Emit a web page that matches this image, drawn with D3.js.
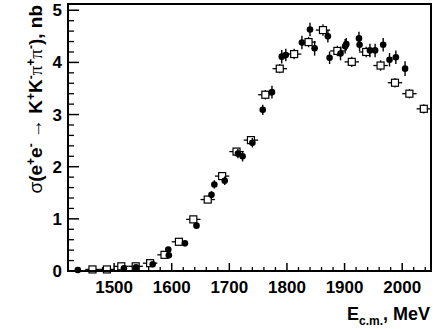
<!DOCTYPE html>
<html>
<head>
<meta charset="utf-8">
<script src="https://cdn.jsdelivr.net/npm/d3@7"></script>
<style>
  body { margin: 0; background: #fff; }
  svg { display: block; font-family: "Liberation Sans", Arial, sans-serif; }
</style>
</head>
<body>
<div id="chart"></div>
<script>
// open squares: 25 MeV bins (centre, value, vertical error)
var sqE = [1462.5, 1487.5, 1512.5, 1537.5, 1562.5, 1587.5, 1612.5, 1637.5, 1662.5, 1687.5,
  1712.5, 1737.5, 1762.5, 1787.5, 1812.5, 1837.5, 1862.5, 1887.5, 1912.5, 1937.5,
  1962.5, 1987.5, 2012.5, 2037.5];
var sqV = [0.03, 0.03, 0.09, 0.09, 0.15, 0.31, 0.56, 0.99, 1.37, 1.82,
  2.29, 2.51, 3.38, 3.88, 4.16, 4.39, 4.62, 4.22, 4.01, 4.20,
  3.94, 3.61, 3.40, 3.11];
var sqErr = [0.02, 0.02, 0.02, 0.02, 0.03, 0.03, 0.04, 0.05, 0.05, 0.06,
  0.07, 0.07, 0.09, 0.09, 0.10, 0.10, 0.11, 0.10, 0.10, 0.10,
  0.10, 0.09, 0.09, 0.09];
var sqHalfWidth = 12.5;

// filled circles (energy, value, vertical error)
var dotE = [1437, 1517, 1538, 1567, 1594, 1595, 1623, 1643, 1669, 1674,
  1692, 1715, 1723, 1740, 1758, 1774, 1791, 1798, 1826, 1840,
  1848, 1871, 1874, 1893, 1901, 1903, 1925, 1926, 1944, 1953,
  1967, 1978, 1989, 2005];
var dotV = [0.02, 0.05, 0.07, 0.13, 0.41, 0.30, 0.53, 0.87, 1.46, 1.66,
  1.73, 2.25, 2.20, 2.46, 3.09, 3.43, 4.11, 4.14, 4.38, 4.63,
  4.27, 4.50, 4.09, 4.17, 4.31, 4.35, 4.46, 4.34, 4.23, 4.23,
  4.34, 4.05, 4.10, 3.88];
var dotErr = [0.02, 0.02, 0.03, 0.03, 0.05, 0.04, 0.04, 0.06, 0.07, 0.08,
  0.08, 0.09, 0.10, 0.09, 0.10, 0.12, 0.13, 0.12, 0.13, 0.13,
  0.14, 0.12, 0.12, 0.13, 0.14, 0.12, 0.13, 0.12, 0.13, 0.13,
  0.13, 0.13, 0.13, 0.14];

var xTicks = [1500, 1600, 1700, 1800, 1900, 2000];
var yTicks = [0, 1, 2, 3, 4, 5];

var margin = { top: 4, right: 6, bottom: 58, left: 68 },
  W = 437, H = 329,
  width = W - margin.left - margin.right,
  height = H - margin.top - margin.bottom;

var svg = d3.select("#chart").append("svg")
  .attr("width", W).attr("height", H);

var g = svg.append("g")
  .attr("transform", "translate(" + margin.left + "," + margin.top + ")");

var x = d3.scaleLinear().domain([1420, 2050]).range([0, width]);
var y = d3.scaleLinear().domain([0, 5.12]).range([height, 0]);

// minor ticks (ROOT style, inside the frame)
var xMinor = d3.range(1420, 2051, 20).filter(function (d) { return d % 100 != 0; });
var yMinor = d3.range(0, 5.01, 0.2).filter(function (d) { return Math.abs(d - Math.round(d)) > 0.01; });

g.selectAll(".xminor").data(xMinor).enter().append("line")
  .attr("x1", function (d) { return x(d); }).attr("x2", function (d) { return x(d); })
  .attr("y1", height).attr("y2", height - 4)
  .attr("stroke", "#000").attr("stroke-width", 1.3);
g.selectAll(".xmajor").data(xTicks).enter().append("line")
  .attr("x1", function (d) { return x(d); }).attr("x2", function (d) { return x(d); })
  .attr("y1", height).attr("y2", height - 8)
  .attr("stroke", "#000").attr("stroke-width", 1.5);
g.selectAll(".yminor").data(yMinor).enter().append("line")
  .attr("y1", function (d) { return y(d); }).attr("y2", function (d) { return y(d); })
  .attr("x1", 0).attr("x2", 6)
  .attr("stroke", "#000").attr("stroke-width", 1.3);
g.selectAll(".ymajor").data(yTicks).enter().append("line")
  .attr("y1", function (d) { return y(d); }).attr("y2", function (d) { return y(d); })
  .attr("x1", 0).attr("x2", 11)
  .attr("stroke", "#000").attr("stroke-width", 1.5);

// tick labels
g.selectAll(".xlab").data(xTicks).enter().append("text")
  .attr("x", function (d) { return x(d); })
  .attr("y", height + 22)
  .attr("text-anchor", "middle")
  .style("font-size", "17px").style("font-weight", "bold")
  .text(function (d) { return d; });
g.selectAll(".ylab").data(yTicks).enter().append("text")
  .attr("x", -6)
  .attr("y", function (d) { return y(d) + 6; })
  .attr("text-anchor", "end")
  .style("font-size", "17px").style("font-weight", "bold")
  .text(function (d) { return d; });

// open squares with error bars
var squares = sqE.map(function (e, i) { return { e: e, v: sqV[i], err: sqErr[i] }; });
var sq = g.append("g").selectAll("g").data(squares).enter().append("g");
sq.append("line")
  .attr("x1", function (d) { return x(d.e - sqHalfWidth); })
  .attr("x2", function (d) { return x(d.e + sqHalfWidth); })
  .attr("y1", function (d) { return y(d.v); }).attr("y2", function (d) { return y(d.v); })
  .attr("stroke", "#000").attr("stroke-width", 1.3);
sq.append("line")
  .attr("x1", function (d) { return x(d.e); }).attr("x2", function (d) { return x(d.e); })
  .attr("y1", function (d) { return y(d.v - d.err); })
  .attr("y2", function (d) { return y(d.v + d.err); })
  .attr("stroke", "#000").attr("stroke-width", 1.3);
sq.append("rect")
  .attr("x", function (d) { return x(d.e) - 3.5; })
  .attr("y", function (d) { return y(d.v) - 3.5; })
  .attr("width", 7).attr("height", 7)
  .attr("fill", "#fff").attr("stroke", "#000").attr("stroke-width", 1.2);

// filled circles with error bars
var dots = dotE.map(function (e, i) { return { e: e, v: dotV[i], err: dotErr[i] }; });
var dt = g.append("g").selectAll("g").data(dots).enter().append("g");
dt.append("line")
  .attr("x1", function (d) { return x(d.e); }).attr("x2", function (d) { return x(d.e); })
  .attr("y1", function (d) { return y(d.v - d.err); })
  .attr("y2", function (d) { return y(d.v + d.err); })
  .attr("stroke", "#000").attr("stroke-width", 1.4);
dt.append("circle")
  .attr("cx", function (d) { return x(d.e); })
  .attr("cy", function (d) { return y(d.v); })
  .attr("r", 3.3)
  .attr("fill", "#000");

// frame
g.append("rect")
  .attr("x", 0).attr("y", 0).attr("width", width).attr("height", height)
  .attr("fill", "none").attr("stroke", "#000").attr("stroke-width", 2);

// x axis title
var xt = svg.append("text")
  .attr("x", W - 7).attr("y", 320)
  .attr("text-anchor", "end")
  .style("font-size", "18px").style("font-weight", "bold");
xt.append("tspan").text("E");
xt.append("tspan").attr("dy", 5).style("font-size", "12px").text("c.m.");
xt.append("tspan").attr("dy", -5).text(", MeV");

// y axis title (rotated)
var yt = svg.append("text")
  .attr("transform", "translate(42,5) rotate(-90)")
  .attr("text-anchor", "end")
  .style("font-size", "19px").style("font-weight", "bold");
var sym = "Liberation Serif";
yt.append("tspan").style("font-weight", "normal").text("\u03c3");
yt.append("tspan").text("(e");
yt.append("tspan").attr("dy", -7).style("font-size", "12px").text("+");
yt.append("tspan").attr("dy", 7).text("e");
yt.append("tspan").attr("dy", -7).style("font-size", "12px").text("-");
yt.append("tspan").attr("dy", 7).style("font-weight", "normal").text(" \u2192 ");
yt.append("tspan").text("K");
yt.append("tspan").attr("dy", -7).style("font-size", "12px").text("+");
yt.append("tspan").attr("dy", 7).text("K");
yt.append("tspan").attr("dy", -7).style("font-size", "12px").text("-");
yt.append("tspan").attr("dy", 7).style("font-family", sym).style("font-weight", "normal").text("\u03c0");
yt.append("tspan").attr("dy", -7).style("font-size", "12px").text("+");
yt.append("tspan").attr("dy", 7).style("font-family", sym).style("font-weight", "normal").text("\u03c0");
yt.append("tspan").attr("dy", -7).style("font-size", "12px").text("-");
yt.append("tspan").attr("dy", 7).text("), nb");
</script>
</body>
</html>
